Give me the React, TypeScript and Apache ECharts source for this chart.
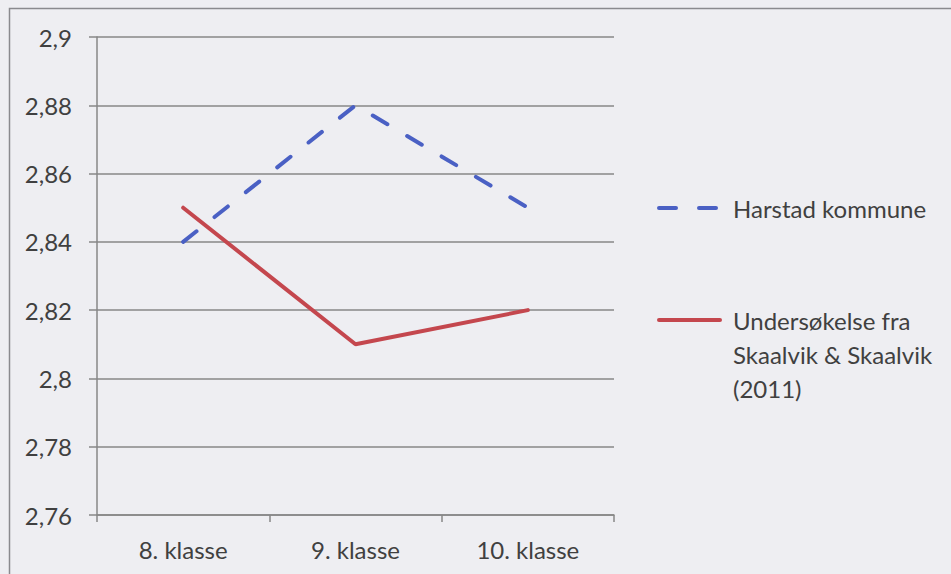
import React, { useEffect, useRef } from "react";
import * as echarts from "echarts";

const categories = ["8. klasse", "9. klasse", "10. klasse"];
const harstad = [2.84, 2.88, 2.85];
const skaalvik = [2.85, 2.81, 2.82];
const seriesNames = ["Harstad kommune", "Undersøkelse fra\nSkaalvik & Skaalvik\n(2011)"];

const FONT = "Lato";
const FS = 24;
const TEXT = "#404040";
const AXIS = "#878787";
const BLUE = "#4a60c4";
const RED = "#c4474e";

export default function App() {
  const ref = useRef<HTMLDivElement>(null);
  useEffect(() => {
    const chart = echarts.init(ref.current!, null, { renderer: "svg" });
    chart.setOption({
      animation: false,
      backgroundColor: "#eeeef2",
      textStyle: { fontFamily: FONT },
      grid: { left: 97, top: 37, right: 337, bottom: 59, containLabel: false },
      xAxis: {
        type: "category",
        data: categories,
        boundaryGap: true,
        axisLine: { lineStyle: { color: AXIS, width: 1.5 } },
        axisTick: { show: true, length: 7, lineStyle: { color: AXIS, width: 1.5 } },
        axisLabel: { color: TEXT, fontSize: FS, fontFamily: FONT, margin: 22 },
      },
      yAxis: {
        type: "value",
        min: 2.76,
        max: 2.9,
        interval: 0.02,
        axisLine: { show: true, lineStyle: { color: AXIS, width: 1.5 } },
        axisTick: { show: true, length: 8, lineStyle: { color: AXIS, width: 1.5 } },
        splitLine: { show: true, lineStyle: { color: AXIS, width: 1.5 } },
        axisLabel: {
          color: TEXT,
          fontSize: FS,
          fontFamily: FONT,
          margin: 25,
          formatter: (v: number) => String(Math.round(v * 100) / 100).replace(".", ","),
        },
      },
      series: [
        {
          name: seriesNames[0],
          type: "line",
          data: harstad,
          symbol: "none",
          lineStyle: { color: BLUE, width: 4, type: [17, 23], cap: "round" },
        },
        {
          name: seriesNames[1],
          type: "line",
          data: skaalvik,
          symbol: "none",
          lineStyle: { color: RED, width: 4, cap: "round" },
        },
      ],
      graphic: [
        {
          type: "rect",
          shape: { x: 9.5, y: 8.5, width: 1200, height: 900 },
          style: { fill: "none", stroke: "#8a8a8e", lineWidth: 1.5 },
          silent: true,
        },
        {
          type: "line",
          shape: { x1: 659, y1: 208, x2: 718, y2: 208 },
          style: { stroke: BLUE, lineWidth: 4, lineDash: [17, 23], lineCap: "round" },
        },
        {
          type: "text",
          x: 733,
          y: 208,
          style: {
            text: seriesNames[0],
            fill: TEXT,
            font: `${FS}px "${FONT}"`,
            verticalAlign: "middle",
          },
        },
        {
          type: "line",
          shape: { x1: 659, y1: 320, x2: 720, y2: 320 },
          style: { stroke: RED, lineWidth: 4, lineCap: "round" },
        },
        {
          type: "text",
          x: 733,
          y: 303,
          style: {
            text: seriesNames[1],
            fill: TEXT,
            font: `${FS}px "${FONT}"`,
            lineHeight: 34,
            verticalAlign: "top",
          },
        },
      ],
    });
    return () => chart.dispose();
  }, []);
  return (
    <div
      ref={ref}
      style={{ position: "fixed", left: 0, top: 0, width: 951, height: 574 }}
    />
  );
}
